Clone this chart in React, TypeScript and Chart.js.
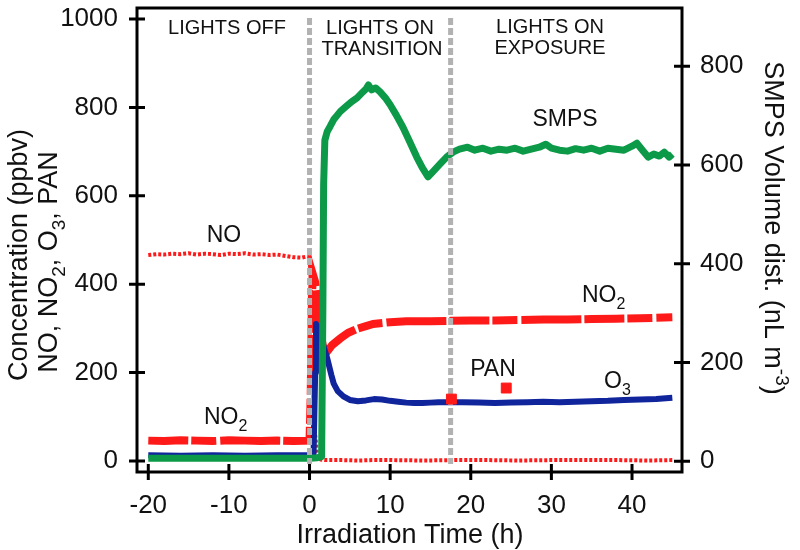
import React, { useEffect, useRef } from "react";
import { Chart, registerables } from "chart.js";

Chart.register(...registerables);

const FONT = '"Liberation Sans", Arial, Helvetica, sans-serif';

// ---- data ----
const noTime = [-20, -19, -18, -17, -16, -15, -14, -13, -12, -11, -10, -9, -8, -7, -6, -5, -4, -3, -2, -1, -0.5, 0, 0.1, 0.25, 0.4, 0.55, 0.7, 0.9, 1.1, 1.4, 2, 4, 6, 8, 10, 14, 18, 22, 26, 30, 34, 38, 42, 45];
const noValue = [466, 468, 467, 469, 468, 470, 467, 469, 468, 466, 469, 468, 470, 467, 468, 466, 467, 464, 461, 460, 462, 461, 430, 340, 230, 130, 60, 20, 6, 3, 2, 2, 1, 2, 2, 1, 2, 2, 1, 2, 2, 2, 1, 2];

const no2Time = [-20, -18, -16, -14, -12, -10, -8, -6, -4, -2, 0, 0.15, 0.3, 0.45, 0.7, 1.0, 1.3, 1.7, 2.0, 2.8, 3.8, 4.8, 5.9, 7, 7.9, 10, 12, 15, 17.5, 20, 23, 26, 29, 32, 35, 38, 41, 43, 45];
const no2Value = [46, 45, 47, 46, 45, 47, 46, 45, 46, 45, 46, 150, 380, 420, 405, 360, 300, 255, 243, 262, 277, 290, 299, 305, 310, 314, 316, 316, 317, 318, 318, 319, 320, 320, 321, 322, 323, 324, 325];

const o3Time = [-20, -16, -12, -8, -4, 0, 0.5, 0.7, 0.8, 1.0, 1.4, 1.8, 2.2, 2.7, 3.0, 3.5, 4.2, 5, 6, 7, 8, 9, 10, 11, 12, 13, 14, 15, 16, 17.5, 19, 21, 23, 25, 27, 29, 31, 33, 35, 37, 39, 41, 43, 45];
const o3Value = [13, 12, 13, 12, 13, 13, 14, 200, 310, 305, 285, 255, 232, 195, 175, 158, 146, 138, 135, 137, 140, 139, 136, 134, 132, 131, 131, 132, 133, 133, 133, 132, 131, 132, 133, 134, 133, 134, 135, 136, 138, 139, 140, 143];

const smpsTime = [-20, -15, -10, -5, 0, 1.0, 1.5, 1.65, 1.75, 1.9, 2.2, 2.55, 3.0, 3.4, 3.8, 4.5, 5.2, 5.9, 6.5, 7.0, 7.3, 7.7, 8.2, 8.75, 9.4, 10.0, 10.8, 11.6, 12.4, 13.3, 14.0, 14.7, 15.4, 16.2, 17.0, 17.8, 18.6, 19.6, 20.5, 21.5, 22.5, 23.5, 24.5, 25.5, 26.5, 27.5, 28.5, 29.3, 30, 31, 32, 33, 34, 35, 36, 37, 38, 39, 40, 40.6, 41.3, 42, 42.7, 43.4, 44, 44.6, 45];
const smpsValue = [6, 6, 6, 6, 6, 7, 9, 300, 560, 650, 668, 678, 692, 700, 708, 718, 728, 736, 746, 754, 762, 752, 756, 748, 736, 722, 700, 676, 648, 616, 594, 576, 588, 602, 616, 626, 632, 636, 630, 634, 628, 632, 630, 634, 628, 632, 636, 642, 634, 630, 628, 633, 630, 634, 628, 634, 632, 630, 638, 644, 630, 616, 622, 618, 626, 616, 622];

const panTime = [17.6, 24.4];
const panValue = [140, 165];

const dividerTimes = [0, 17.5];

const xTickValues = [-20, -10, 0, 10, 20, 30, 40];
const yTickValues = [0, 200, 400, 600, 800, 1000];
const y2TickValues = [0, 200, 400, 600, 800];

const RED = "#ff1a1a";
const BLUE = "#10249c";
const GREEN = "#0c9a48";

type Part = { t: string; s?: "sub" | "sup" };

function drawRich(
  ctx: CanvasRenderingContext2D,
  parts: Part[],
  x: number,
  y: number,
  size: number,
  align: "center" | "left",
  rot = 0
) {
  ctx.save();
  ctx.translate(x, y);
  ctx.rotate(rot);
  const small = Math.round(size * 0.7);
  const widths = parts.map((p) => {
    ctx.font = `${p.s ? small : size}px ${FONT}`;
    return ctx.measureText(p.t).width;
  });
  const total = widths.reduce((a, b) => a + b, 0);
  let cx = align === "center" ? -total / 2 : 0;
  ctx.textAlign = "left";
  ctx.textBaseline = "alphabetic";
  ctx.fillStyle = "#111";
  const base = size * 0.36;
  parts.forEach((p, i) => {
    ctx.font = `${p.s ? small : size}px ${FONT}`;
    const dy = p.s === "sub" ? size * 0.3 : p.s === "sup" ? -size * 0.4 : 0;
    ctx.fillText(p.t, cx, base + dy);
    cx += widths[i];
  });
  ctx.restore();
}

const decorPlugin = {
  id: "decor",
  afterDatasetDraw(chart: any, args: any) {
    const ds = chart.data.datasets[args.index];
    if (ds.label !== "SMPS") return;
    const { ctx, chartArea, scales } = chart;
    ctx.save();
    ctx.strokeStyle = "#b2b2b2";
    ctx.lineWidth = 5;
    ctx.setLineDash([7, 3]);
    for (const t of dividerTimes) {
      const x = scales.x.getPixelForValue(t);
      ctx.beginPath();
      ctx.moveTo(x, chartArea.top + 10);
      ctx.lineTo(x, chartArea.bottom - 8);
      ctx.stroke();
    }
    ctx.restore();
  },
  afterDraw(chart: any) {
    const { ctx, chartArea, scales } = chart;
    const { left, right, top, bottom } = chartArea;
    ctx.save();
    ctx.strokeStyle = "#000";
    ctx.lineWidth = 3;
    ctx.setLineDash([]);
    ctx.strokeRect(left, top, right - left, bottom - top);
    const L = 8;
    ctx.beginPath();
    for (const v of xTickValues) {
      const x = scales.x.getPixelForValue(v);
      ctx.moveTo(x, bottom - L);
      ctx.lineTo(x, bottom + L);
    }
    for (const v of yTickValues) {
      const y = scales.y.getPixelForValue(v);
      ctx.moveTo(left - L, y);
      ctx.lineTo(left + L, y);
    }
    for (const v of y2TickValues) {
      const y = scales.y2.getPixelForValue(v);
      ctx.moveTo(right - L, y);
      ctx.lineTo(right + L, y);
    }
    ctx.stroke();
    ctx.restore();

    // axis titles
    drawRich(ctx, [{ t: "Irradiation Time (h)" }], 410, 533, 27, "center");
    drawRich(ctx, [{ t: "Concentration (ppbv)" }], 17, 255, 27, "center", -Math.PI / 2);
    drawRich(
      ctx,
      [{ t: "NO, NO" }, { t: "2", s: "sub" }, { t: ", O" }, { t: "3", s: "sub" }, { t: ", PAN" }],
      47,
      262,
      27,
      "center",
      -Math.PI / 2
    );
    drawRich(
      ctx,
      [{ t: "SMPS Volume dist. (nL m" }, { t: "-3", s: "sup" }, { t: ")" }],
      775,
      228,
      27,
      "center",
      Math.PI / 2
    );

    // region labels
    drawRich(ctx, [{ t: "LIGHTS OFF" }], 227, 27, 20, "center");
    drawRich(ctx, [{ t: "LIGHTS ON" }], 380, 27, 20, "center");
    drawRich(ctx, [{ t: "TRANSITION" }], 382, 48, 20, "center");
    drawRich(ctx, [{ t: "LIGHTS ON" }], 550, 26, 20, "center");
    drawRich(ctx, [{ t: "EXPOSURE" }], 550, 47, 20, "center");

    // series labels
    drawRich(ctx, [{ t: "NO" }], 224, 234, 23, "center");
    drawRich(ctx, [{ t: "NO" }, { t: "2", s: "sub" }], 204, 416, 23, "left");
    drawRich(ctx, [{ t: "NO" }, { t: "2", s: "sub" }], 582, 294, 23, "left");
    drawRich(ctx, [{ t: "PAN" }], 493, 368, 23, "center");
    drawRich(ctx, [{ t: "O" }, { t: "3", s: "sub" }], 604, 380, 23, "left");
    drawRich(ctx, [{ t: "SMPS" }], 565, 118, 23, "center");
  },
};

function pts(xs: number[], ys: number[]) {
  return xs.map((x, i) => ({ x, y: ys[i] }));
}

function zeroPad(s: any) {
  s.paddingTop = 0;
  s.paddingBottom = 0;
  s.paddingLeft = 0;
  s.paddingRight = 0;
}

export default function App() {
  const ref = useRef<HTMLCanvasElement | null>(null);
  useEffect(() => {
    if (!ref.current) return;
    const tickFont = { family: FONT, size: 26 };
    const chart = new Chart(ref.current, {
      type: "line",
      data: {
        datasets: [
          {
            label: "PAN",
            data: pts(panTime, panValue),
            yAxisID: "y",
            showLine: false,
            pointStyle: "rect",
            pointRadius: 7,
            pointBackgroundColor: RED,
            pointBorderColor: RED,
            borderColor: RED,
            backgroundColor: RED,
            order: 0,
          },
          {
            label: "SMPS",
            data: pts(smpsTime, smpsValue),
            yAxisID: "y2",
            borderColor: GREEN,
            borderWidth: 7,
            borderJoinStyle: "round",
            pointRadius: 0,
            tension: 0,
            order: 1,
          },
          {
            label: "O3",
            data: pts(o3Time, o3Value),
            yAxisID: "y",
            borderColor: BLUE,
            borderWidth: 6,
            borderJoinStyle: "round",
            pointRadius: 0,
            order: 2,
          },
          {
            label: "NO2",
            data: pts(no2Time, no2Value),
            yAxisID: "y",
            borderColor: RED,
            borderWidth: 8,
            borderDash: [40, 3, 25, 4, 60, 3],
            pointRadius: 0,
            order: 3,
          },
          {
            label: "NO",
            data: pts(noTime, noValue),
            yAxisID: "y",
            borderColor: RED,
            borderWidth: 4,
            borderDash: [3, 2],
            pointRadius: 0,
            order: 4,
          },
        ],
      },
      options: {
        animation: false,
        responsive: false,
        layout: { padding: { top: 2, left: 0, right: 0, bottom: 0 } },
        plugins: { legend: { display: false }, tooltip: { enabled: false } },
        scales: {
          x: {
            type: "linear",
            position: "bottom",
            min: -21.4,
            max: 46.2,
            grid: { display: false, drawTicks: false },
            border: { display: false },
            ticks: { font: tickFont, color: "#111", padding: 18, callback: (v: any) => String(v) },
            afterBuildTicks: (s: any) => {
              s.ticks = xTickValues.map((v) => ({ value: v }));
            },
            afterFit: (s: any) => {
              s.height = 78;
              zeroPad(s);
            },
          },
          y: {
            type: "linear",
            position: "left",
            min: -25,
            max: 1025,
            grid: { display: false, drawTicks: false },
            border: { display: false },
            ticks: { font: tickFont, color: "#111", padding: 19, callback: (v: any) => String(v) },
            afterBuildTicks: (s: any) => {
              s.ticks = yTickValues.map((v) => ({ value: v }));
            },
            afterFit: (s: any) => {
              s.width = 137;
              zeroPad(s);
            },
          },
          y2: {
            type: "linear",
            position: "right",
            min: -22,
            max: 918,
            grid: { display: false, drawTicks: false },
            border: { display: false },
            ticks: { font: tickFont, color: "#111", padding: 18, callback: (v: any) => String(v) },
            afterBuildTicks: (s: any) => {
              s.ticks = y2TickValues.map((v) => ({ value: v }));
            },
            afterFit: (s: any) => {
              s.width = 118;
              zeroPad(s);
            },
          },
        },
      },
      plugins: [decorPlugin],
    } as any);
    return () => chart.destroy();
  }, []);
  return (
    <div style={{ position: "absolute", left: 0, top: 0, width: 800, height: 550, background: "#fff" }}>
      <canvas ref={ref} width={800} height={550} />
    </div>
  );
}
